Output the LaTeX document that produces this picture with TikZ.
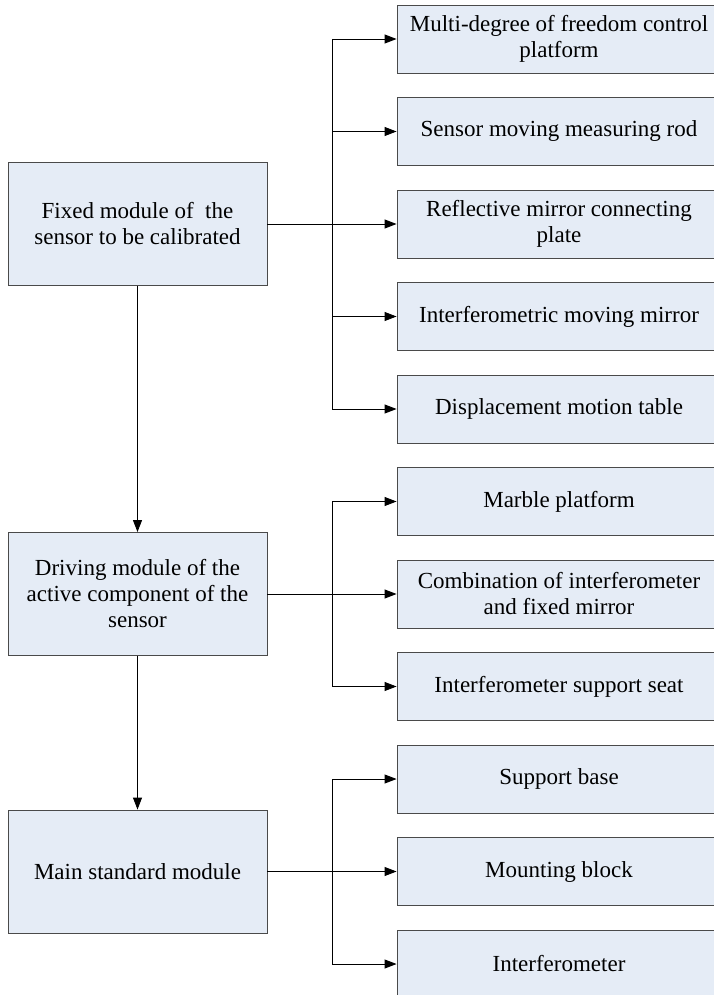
\documentclass[tikz,border=0pt]{standalone}
\usepackage{fontspec}
\setmainfont{Liberation Serif}
\newfontfamily\boxfont{Liberation Serif}
\usetikzlibrary{arrows.meta}
\definecolor{boxfill}{HTML}{E5ECF6}
\definecolor{boxline}{HTML}{4A4A4A}
\tikzset{
  leftbox/.style={draw=boxline, fill=boxfill, line width=0.9pt, minimum width=259pt, minimum height=123pt, align=center, inner sep=2pt, font=\boxfont\fontsize{23}{26}\selectfont},
  rightbox/.style={draw=boxline, fill=boxfill, line width=0.9pt, minimum width=324pt, minimum height=68pt, align=center, inner sep=2pt, font=\boxfont\fontsize{23}{26}\selectfont},
  conn/.style={line width=0.9pt, black},
  arr/.style={conn, -{Triangle[length=12pt,width=9pt]}}
}
\begin{document}
\begin{tikzpicture}[x=1pt,y=-1pt]
\useasboundingbox (0,0) rectangle (714,995);
\clip (0,0) rectangle (714,995);
\fill[white] (0,0) rectangle (714,995);
% left column
\node[leftbox] (L1) at (137.5,224) {Fixed module of\ \ the\\sensor to be calibrated};
\node[leftbox] (L2) at (137.5,594) {Driving module of the\\active component of the\\sensor};
\node[leftbox] (L3) at (137.5,871.5) {Main standard module};
% right column
\node[rightbox] (R1) at (559,39) {Multi-degree of freedom control\\platform};
\node[rightbox] (R2) at (559,131.5) {Sensor moving measuring rod};
\node[rightbox] (R3) at (559,224) {Reflective mirror connecting\\plate};
\node[rightbox] (R4) at (559,316.5) {Interferometric moving mirror};
\node[rightbox] (R5) at (559,409) {Displacement motion table};
\node[rightbox] (R6) at (559,501.5) {Marble platform};
\node[rightbox] (R7) at (559,594) {Combination of interferometer\\and fixed mirror};
\node[rightbox] (R8) at (559,686.5) {Interferometer support seat};
\node[rightbox] (R9) at (559,779) {Support base};
\node[rightbox] (R10) at (559,871.5) {Mounting block};
\node[rightbox] (R11) at (559,964) {Interferometer};
\coordinate (bx) at (332,0);
% vertical main arrows
\draw[arr] (L1.south) -- (L2.north);
\draw[arr] (L2.south) -- (L3.north);
% group 1
\draw[conn] (R1.west -| bx) -- (R5.west -| bx);
\foreach \r in {R1,R2,R4,R5} \draw[arr] (\r.west -| bx) -- (\r.west);
\draw[arr] (L1.east) -- (R3.west);
% group 2
\draw[conn] (R6.west -| bx) -- (R8.west -| bx);
\foreach \r in {R6,R8} \draw[arr] (\r.west -| bx) -- (\r.west);
\draw[arr] (L2.east) -- (R7.west);
% group 3
\draw[conn] (R9.west -| bx) -- (R11.west -| bx);
\foreach \r in {R9,R11} \draw[arr] (\r.west -| bx) -- (\r.west);
\draw[arr] (L3.east) -- (R10.west);
\end{tikzpicture}
\end{document}
